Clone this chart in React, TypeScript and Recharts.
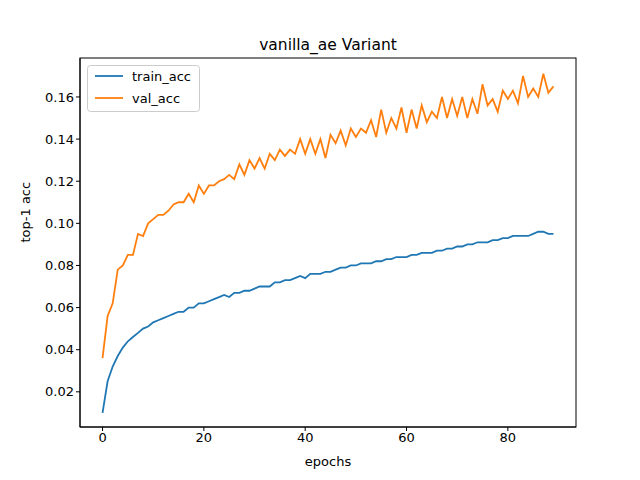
import { LineChart, Line, XAxis, YAxis } from 'recharts';

// epochs 0..89
const trainAcc = [
  0.010, 0.025, 0.032, 0.037, 0.041, 0.044, 0.046, 0.048, 0.050, 0.051,
  0.053, 0.054, 0.055, 0.056, 0.057, 0.058, 0.058, 0.060, 0.060, 0.062,
  0.062, 0.063, 0.064, 0.065, 0.066, 0.065, 0.067, 0.067, 0.068, 0.068,
  0.069, 0.070, 0.070, 0.070, 0.072, 0.072, 0.073, 0.073, 0.074, 0.075,
  0.074, 0.076, 0.076, 0.076, 0.077, 0.077, 0.078, 0.079, 0.079, 0.080,
  0.080, 0.081, 0.081, 0.081, 0.082, 0.082, 0.083, 0.083, 0.084, 0.084,
  0.084, 0.085, 0.085, 0.086, 0.086, 0.086, 0.087, 0.087, 0.088, 0.088,
  0.089, 0.089, 0.090, 0.090, 0.091, 0.091, 0.091, 0.092, 0.092, 0.093,
  0.093, 0.094, 0.094, 0.094, 0.094, 0.095, 0.096, 0.096, 0.095, 0.095,
];
const valAcc = [
  0.036, 0.056, 0.062, 0.078, 0.080, 0.085, 0.085, 0.095, 0.094, 0.100,
  0.102, 0.104, 0.104, 0.106, 0.109, 0.110, 0.110, 0.114, 0.110, 0.118,
  0.114, 0.118, 0.118, 0.120, 0.121, 0.123, 0.121, 0.128, 0.123, 0.130,
  0.126, 0.131, 0.126, 0.133, 0.130, 0.135, 0.132, 0.135, 0.133, 0.140,
  0.133, 0.140, 0.133, 0.140, 0.131, 0.142, 0.138, 0.144, 0.137, 0.145,
  0.141, 0.145, 0.143, 0.149, 0.141, 0.154, 0.143, 0.150, 0.145, 0.155,
  0.143, 0.154, 0.145, 0.156, 0.148, 0.153, 0.150, 0.160, 0.150, 0.159,
  0.151, 0.160, 0.150, 0.159, 0.152, 0.166, 0.156, 0.159, 0.153, 0.163,
  0.159, 0.163, 0.157, 0.170, 0.160, 0.164, 0.160, 0.171, 0.162, 0.165,
];
const xTicks = [0, 20, 40, 60, 80];
const yTicks = [0.02, 0.04, 0.06, 0.08, 0.1, 0.12, 0.14, 0.16];

const data = trainAcc.map((t, i) => ({ epoch: i, train_acc: t, val_acc: valAcc[i] }));

const font = '"DejaVu Sans", sans-serif';
const tick = { fill: '#000', fontSize: 13, fontFamily: font };

export default function App() {
  return (
    <div style={{ position: 'absolute', left: 0, top: 0, width: 640, height: 480, background: '#fff', fontFamily: font }}>
      <LineChart width={640} height={480} data={data} margin={{ top: 58, right: 64, bottom: 0, left: 0 }}>
        <XAxis
          dataKey="epoch"
          type="number"
          domain={[-4.45, 93.45]}
          ticks={xTicks}
          tick={tick}
          tickSize={4}
          stroke="#000"
          height={53}
          label={{ value: 'epochs', position: 'insideBottom', offset: 14, fill: '#000', fontSize: 13, fontFamily: font }}
        />
        <YAxis
          type="number"
          domain={[0.0033, 0.1785]}
          ticks={yTicks}
          tick={tick}
          tickSize={4}
          tickFormatter={(v: number) => v.toFixed(2)}
          stroke="#000"
          width={80}
          label={{ value: 'top-1 acc', angle: -90, position: 'insideLeft', offset: 25, fill: '#000', fontSize: 13, fontFamily: font }}
        />
        <Line dataKey="train_acc" stroke="#1f77b4" strokeWidth={1.8} dot={false} isAnimationActive={false} />
        <Line dataKey="val_acc" stroke="#ff7f0e" strokeWidth={1.8} dot={false} isAnimationActive={false} />
      </LineChart>
      <svg width={640} height={480} style={{ position: 'absolute', left: 0, top: 0, pointerEvents: 'none' }}>
        <rect x={80} y={58} width={496} height={369} fill="none" stroke="#000" strokeWidth={1} />
        <text x={328} y={50} textAnchor="middle" fontSize={15.5} fontFamily={font}>vanilla_ae Variant</text>
        <rect x={87.5} y={65.5} width={112} height={46} rx={3} fill="#fff" stroke="#ccc" />
        <line x1={95} x2={123} y1={76} y2={76} stroke="#1f77b4" strokeWidth={1.8} />
        <text x={132} y={81} fontSize={13} fontFamily={font}>train_acc</text>
        <line x1={95} x2={123} y1={98} y2={98} stroke="#ff7f0e" strokeWidth={1.8} />
        <text x={132} y={103} fontSize={13} fontFamily={font}>val_acc</text>
      </svg>
    </div>
  );
}
